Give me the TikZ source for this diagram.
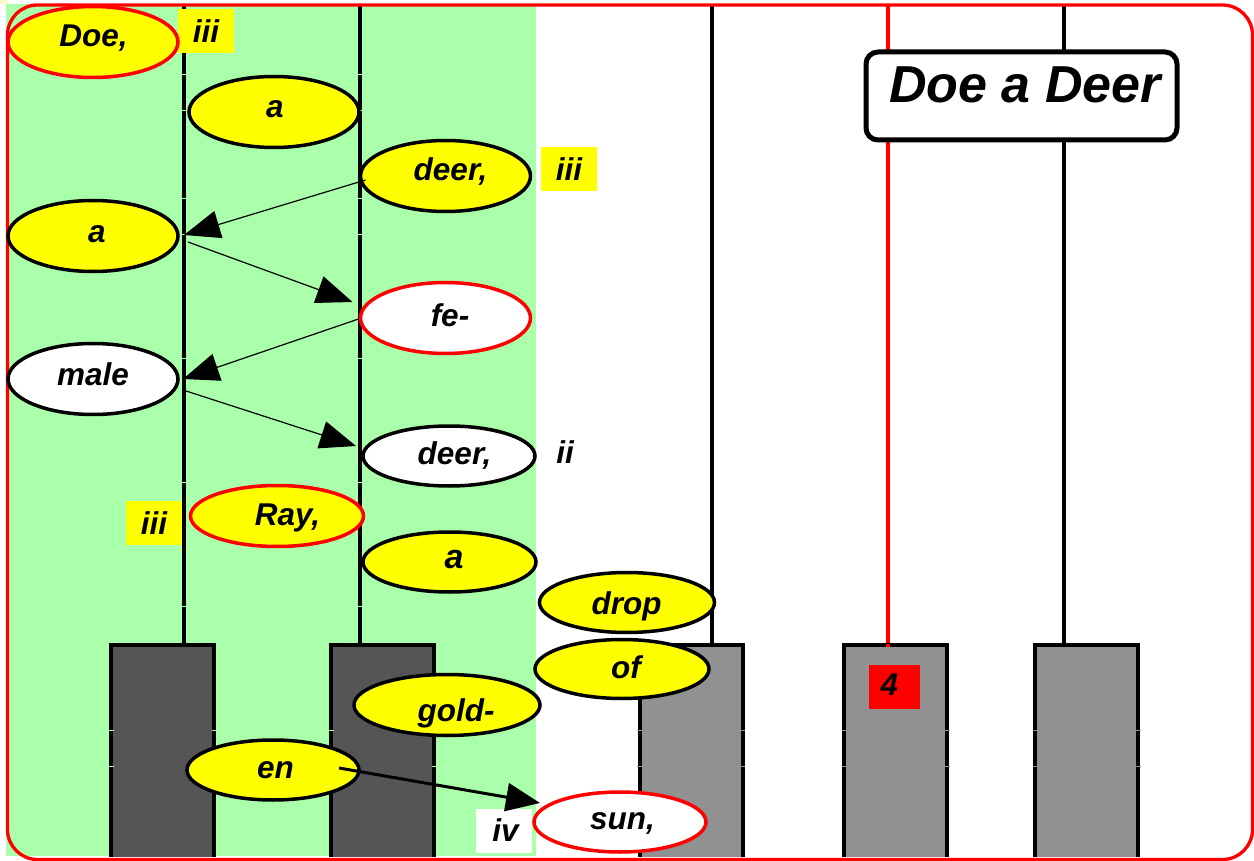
\documentclass[tikz,border=0pt]{standalone}
\usepackage{fontspec}
\setmainfont{Liberation Sans}
\usetikzlibrary{shapes.geometric,arrows.meta}
\definecolor{bggreen}{RGB}{170,255,170}
\definecolor{darkbar}{RGB}{85,85,85}
\definecolor{greybar}{RGB}{145,145,145}
\definecolor{lyricyellow}{RGB}{255,255,0}
\definecolor{pureRed}{RGB}{255,0,0}
\tikzset{
  x=1pt,y=-1pt,
  lyric/.style={ellipse,draw=black,line width=3.5pt,fill=lyricyellow,inner sep=0pt,outer sep=0pt,minimum width=170pt,minimum height=70pt},
  plainlyric/.style={lyric,fill=white},
  accent/.style={draw=pureRed},
  word/.style={inner sep=0pt,font=\bfseries\itshape\fontsize{31.5}{33}\selectfont},
  tag/.style={inner sep=0pt,minimum width=56pt,minimum height=44pt,font=\bfseries\itshape\fontsize{31.5}{33}\selectfont},
  staff/.style={line width=4pt},
  thinarrow/.style={line width=1.2pt,-{Triangle[length=36pt,width=28pt]}},
  thickarrow/.style={line width=3pt,-{Triangle[length=34pt,width=28pt]}},
}
\newcommand{\barkey}[2]{%
  \fill[#2] (#1,644) rectangle (#1+103,857);
  \draw[line width=4pt,line join=miter] (#1,857) -- (#1,644.7) -- (#1+103,644.7) -- (#1+103,857);
}
\begin{document}
\begin{tikzpicture}
\useasboundingbox (0,0) rectangle (1254,861);
\fill[white] (0,0) rectangle (1254,861);
\fill[black!12!lyricyellow!20!white] (0,0) rectangle (8,4);
\fill[bggreen] (6,4) rectangle (536,856);
% staff lines
\draw[staff] (184,5) -- (184,644);
\draw[staff] (360,5) -- (360,644);
\draw[staff] (712,5) -- (712,644);
\draw[staff,pureRed] (888,5) -- (888,648);
\draw[staff] (1064,5) -- (1064,644);
% bars
\barkey{111}{darkbar}
\barkey{331}{darkbar}
\barkey{639.5}{greybar}
\barkey{844}{greybar}
\barkey{1035}{greybar}
\draw[staff,pureRed] (888,644) -- (888,647);
% tick marks
\foreach \yy in {74.5,110.5,198.5,234.5,358.5,482.5,606.5}{
  \draw[bggreen,line width=0.8pt] (181,\yy) -- (187,\yy);
  \draw[bggreen,line width=0.8pt] (357,\yy) -- (363,\yy);
}
\foreach \xx/\cc in {111/bggreen,214/bggreen,331/bggreen,434/bggreen,639.5/greybar,742.5/greybar,844/greybar,947/greybar,1035/greybar,1138/greybar}{
  \foreach \yy in {730.5,766.5}{
    \draw[\cc,line width=0.8pt] (\xx-2.5,\yy) -- (\xx+2.5,\yy);
  }
}
% frame
\draw[pureRed,line width=3.3pt,rounded corners=30pt] (7.5,5) rectangle (1252.5,859.5);
% tags
\node[tag,fill=lyricyellow] (tag1) at (206,31) {iii};
\node[tag,fill=lyricyellow] (tag2) at (569,169) {iii};
\node[tag,fill=lyricyellow] (tag3) at (154,523) {iii};
\node[tag] (tag4) at (565,452) {ii};
\node[tag,fill=white] (tag5) at (504,830.5) {};
\node[word] (wiv) at (505.5,830.5) {iv};
\node[inner sep=0pt,fill=pureRed,minimum width=51pt,minimum height=44pt] (tag6) at (894.5,687) {};
\node[word] (four) at (889.5,685) {4};
% lyric ellipses
\node[lyric,accent,minimum width=170pt,minimum height=71pt] (doe) at (93,42) {};
\node[lyric,minimum width=170pt,minimum height=71pt] (a1) at (274,112) {};
\node[lyric,minimum width=170pt,minimum height=71pt] (deer1) at (445.5,176) {};
\node[lyric,minimum width=170pt,minimum height=71pt] (a2) at (93,236) {};
\node[plainlyric,accent,minimum width=170pt,minimum height=71pt] (fe) at (445.5,318) {};
\node[plainlyric,minimum width=170pt,minimum height=71pt] (male) at (93,379) {};
\node[plainlyric,minimum width=172pt,minimum height=60pt] (deer2) at (449,456) {};
\node[lyric,accent,minimum width=173pt,minimum height=61pt] (ray) at (277,516) {};
\node[lyric,minimum width=173pt,minimum height=60pt] (a3) at (449.5,562) {};
\node[lyric,minimum width=175pt,minimum height=60pt] (drop) at (627,602.5) {};
\node[lyric,minimum width=174pt,minimum height=59pt] (of) at (622,669) {};
\node[lyric,minimum width=186pt,minimum height=61pt] (gold) at (447,705) {};
\node[lyric,minimum width=172pt,minimum height=60pt] (en) at (273,770) {};
\node[plainlyric,accent,minimum width=172pt,minimum height=60pt] (sun) at (620,822) {};
% words
\node[word] (wdoe) at (93.5,38) {Doe,};
\node[word] (wa1) at (275,109) {a};
\node[word] (wdeer1) at (450.5,172) {deer,};
\node[word] (wa2) at (97,234) {a};
\node[word] (wfe) at (450,315) {fe-};
\node[word] (wmale) at (93,374) {male};
\node[word] (wdeer2) at (454.5,456) {deer,};
\node[word] (wray) at (287.5,518) {Ray,};
\node[word,font=\bfseries\itshape\fontsize{34}{36}\selectfont] (wa3) at (454,560) {a};
\node[word] (wdrop) at (626.5,606) {drop};
\node[word] (wof) at (626,667) {of};
\node[word] (wgold) at (456,713) {gold-};
\node[word] (wen) at (275.5,770) {en};
\node[word] (wsun) at (622.5,823) {sun,};
% title
\node[draw=black,fill=white,line width=5pt,rounded corners=12pt,inner sep=0pt,outer sep=0pt,minimum width=311pt,minimum height=88pt] (title) at (1021.5,96) {};
\node[inner sep=0pt,font=\bfseries\itshape\fontsize{52}{54}\selectfont] (wtitle) at (1025,85) {Doe a Deer};
% arrows
\draw[thinarrow] ([shift={(5,4)}]deer1.west) -- ([shift={(6,-1)}]a2.east);
\draw[thinarrow] ([shift={(10,6)}]a2.east) -- ([shift={(-8,-16)}]fe.west);
\draw[thinarrow] ([shift={(-2,1)}]fe.west) -- ([shift={(5,0)}]male.east);
\draw[thinarrow] ([shift={(5,11)}]male.east) -- ([shift={(-7,-10)}]deer2.west);
\draw[thickarrow] ([shift={(-20,-2)}]en.east) -- ([shift={(6,-19)}]sun.west);
\end{tikzpicture}
\end{document}
